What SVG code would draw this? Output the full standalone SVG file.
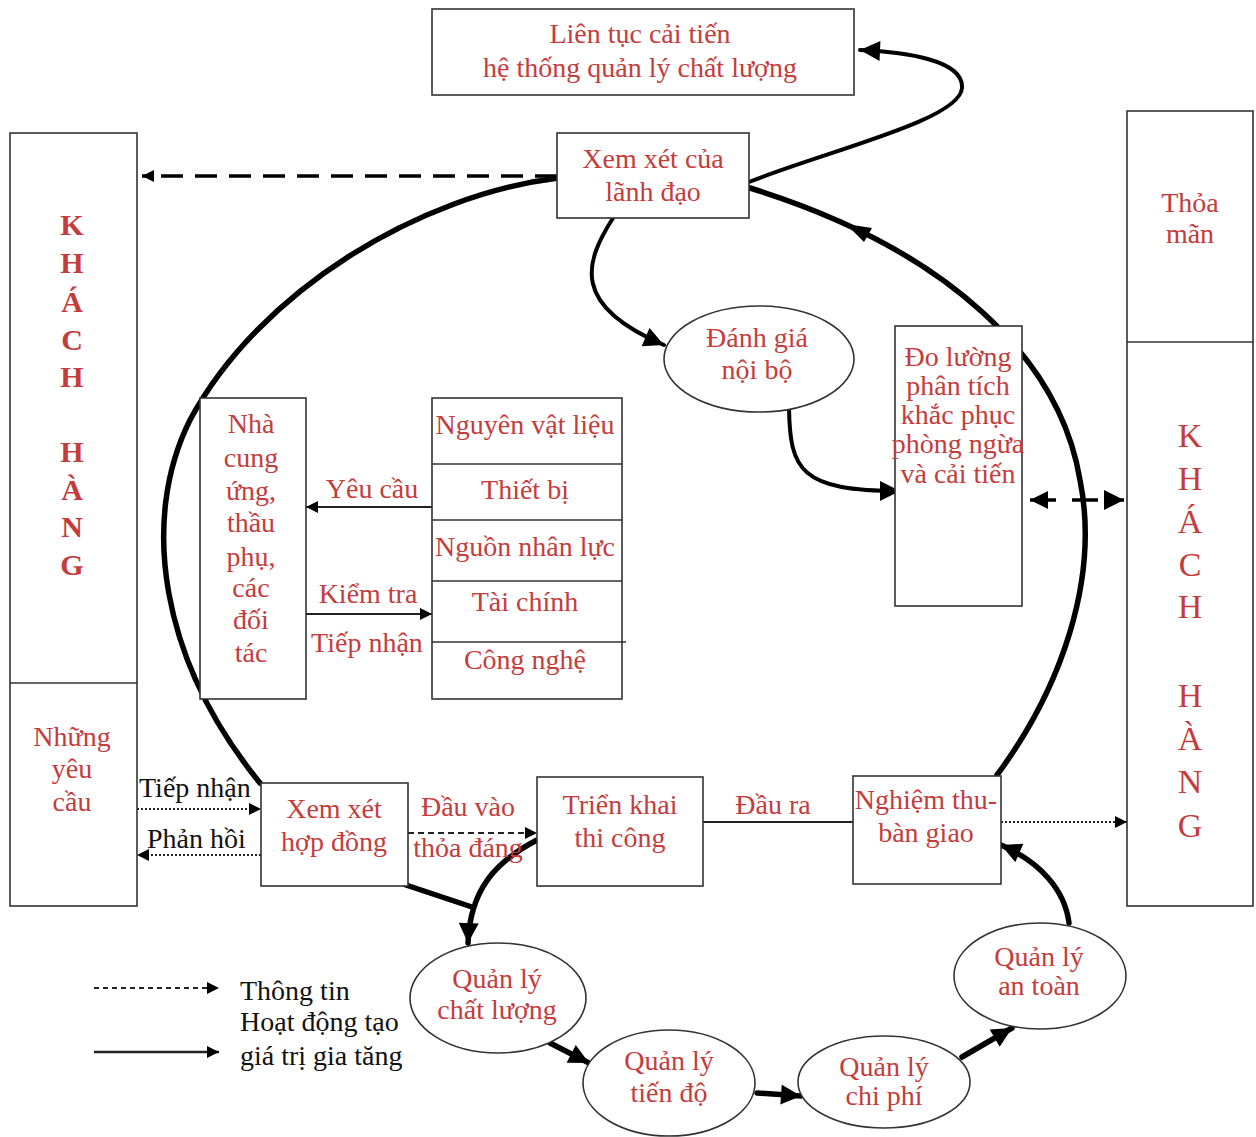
<svg xmlns="http://www.w3.org/2000/svg" width="1256" height="1137" viewBox="0 0 1256 1137">
<defs>
<style>
.box{fill:#fff;stroke:#333;stroke-width:1.6}
.t{font-family:"Liberation Serif","Times New Roman",serif;font-size:28px;fill:#c43c3c;text-anchor:middle}
.k{font-family:"Liberation Serif","Times New Roman",serif;fill:#c43c3c;text-anchor:middle}
.b{font-family:"Liberation Serif","Times New Roman",serif;font-size:28px;fill:#111}
.thick{fill:none;stroke:#000;stroke-width:5.5;stroke-linecap:round}
.mid{fill:none;stroke:#000;stroke-width:4;stroke-linecap:round}
.thin{fill:none;stroke:#222;stroke-width:2}
.dot{fill:none;stroke:#222;stroke-width:2;stroke-dasharray:2 2}
.dash{fill:none;stroke:#222;stroke-width:2;stroke-dasharray:6 4}
.ldash{fill:none;stroke:#000;stroke-width:3.5;stroke-dasharray:22 12}
</style>
<marker id="ah" viewBox="0 0 10 10" refX="10" refY="5" markerWidth="14" markerHeight="12" markerUnits="userSpaceOnUse" orient="auto"><path d="M0,0 L10,5 L0,10 z" fill="#000"/></marker>
<marker id="ahb" viewBox="0 0 10 10" refX="10" refY="5" markerWidth="22" markerHeight="20" markerUnits="userSpaceOnUse" orient="auto"><path d="M0,0 L10,5 L0,10 z" fill="#000"/></marker>
<marker id="ahs" viewBox="0 0 10 10" refX="0" refY="5" markerWidth="22" markerHeight="18" markerUnits="userSpaceOnUse" orient="auto"><path d="M10,0 L0,5 L10,10 z" fill="#000"/></marker>
</defs>

<g id="connectors">
<!-- big loop -->
<path class="thick" d="M558,178 C420,195 260,290 190,420 C140,520 160,660 260,783"/>
<path class="thick" d="M997,775 C1060,690 1100,580 1080,480 C1060,360 950,250 750,188"/>
<polygon points="846,224 872,228 864,242" fill="#000"/>
<path class="mid" d="M749,182 C830,150 960,120 962,88 C964,60 905,52 860,50" marker-end="url(#ahb)"/>
<path class="mid" d="M613,218 C585,262 570,305 664,345" marker-end="url(#ahb)"/>
<path class="mid" d="M789,408 C790,470 800,491 900,491" marker-end="url(#ahb)"/>
<path class="ldash" d="M557,176 L142,176" marker-end="url(#ah)"/>
<path class="ldash" d="M1030,500 L1124,500" style="stroke-dasharray:26 16" marker-end="url(#ahb)" marker-start="url(#ahs)"/>
<!-- supplier arrows -->
<path class="thin" d="M432,507 L306,507" marker-end="url(#ah)"/>
<path class="thin" d="M306,614 L432,614" marker-end="url(#ah)"/>
<!-- process line -->
<path class="dot" d="M137,809 L261,809" marker-end="url(#ah)"/>
<path class="dot" d="M261,855 L137,855" marker-end="url(#ah)"/>
<path class="dash" d="M408,833 L537,833" marker-end="url(#ah)"/>
<path class="thin" d="M703,822 L853,822"/>
<path class="dot" d="M1001,822 L1127,822" marker-end="url(#ah)"/>
<!-- value chain -->
<path class="thick" d="M406,885 L472,907"/>
<path class="thick" d="M537,840 C495,862 470,890 468,943" marker-end="url(#ahb)"/>
<path class="thick" d="M550,1043 L589,1063" marker-end="url(#ahb)"/>
<path class="thick" d="M757,1093 L801,1096" marker-end="url(#ahb)"/>
<path class="thick" d="M962,1057 L1012,1028" marker-end="url(#ahb)"/>
<path class="thick" d="M1069,923 C1065,890 1040,862 1001,845" marker-end="url(#ahb)"/>
<!-- legend -->
<path class="dash" d="M94,988 L219,988" style="stroke-dasharray:5 4" marker-end="url(#ah)"/>
<path class="thin" d="M94,1052 L219,1052" style="stroke-width:2.5" marker-end="url(#ah)"/>
</g>

<g id="lien-tuc">
<rect class="box" x="432" y="9" width="422" height="86"/>
<text class="t" x="640" y="43">Liên tục cải tiến</text>
<text class="t" x="640" y="77">hệ thống quản lý chất lượng</text>
</g>

<g id="xem-xet-lanh-dao">
<rect class="box" x="557" y="133" width="192" height="85"/>
<text class="t" x="653" y="168">Xem xét của</text>
<text class="t" x="653" y="201">lãnh đạo</text>
</g>

<g id="khach-hang-trai">
<rect class="box" x="10" y="133" width="127" height="773"/>
<line class="box" x1="10" y1="683" x2="137" y2="683"/>
<g class="k" font-size="30" font-weight="bold">
<text x="72" y="235">K</text><text x="72" y="273">H</text><text x="72" y="312">Á</text><text x="72" y="350">C</text><text x="72" y="387">H</text>
<text x="72" y="462">H</text><text x="72" y="500">À</text><text x="72" y="537">N</text><text x="72" y="575">G</text>
</g>
<text class="t" x="72" y="746">Những</text>
<text class="t" x="72" y="778">yêu</text>
<text class="t" x="72" y="811">cầu</text>
</g>

<g id="khach-hang-phai">
<rect class="box" x="1127" y="111" width="126" height="795"/>
<line class="box" x1="1127" y1="342" x2="1253" y2="342"/>
<text class="t" x="1190" y="212">Thỏa</text>
<text class="t" x="1190" y="243">mãn</text>
<g class="k" font-size="34">
<text x="1190" y="447">K</text><text x="1190" y="490">H</text><text x="1190" y="533">Á</text><text x="1190" y="576">C</text><text x="1190" y="618">H</text>
<text x="1190" y="707">H</text><text x="1190" y="750">À</text><text x="1190" y="793">N</text><text x="1190" y="837">G</text>
</g>
</g>

<g id="danh-gia">
<ellipse class="box" cx="759" cy="359" rx="95" ry="53"/>
<text class="t" x="757" y="347">Đánh giá</text>
<text class="t" x="757" y="379">nội bộ</text>
</g>

<g id="do-luong">
<rect class="box" x="895" y="326" width="127" height="280"/>
<g class="t" font-size="25">
<text x="958" y="366">Đo lường</text>
<text x="958" y="395">phân tích</text>
<text x="958" y="424">khắc phục</text>
<text x="958" y="453">phòng ngừa</text>
<text x="958" y="483">và cải tiến</text>
</g>
</g>

<g id="nha-cung-ung">
<rect class="box" x="200" y="398" width="106" height="301"/>
<text class="t" x="251" y="433">Nhà</text>
<text class="t" x="251" y="467">cung</text>
<text class="t" x="251" y="500">ứng,</text>
<text class="t" x="251" y="532">thầu</text>
<text class="t" x="251" y="566">phụ,</text>
<text class="t" x="251" y="597">các</text>
<text class="t" x="251" y="629">đối</text>
<text class="t" x="251" y="662">tác</text>
</g>

<g id="labels-supplier">
<text class="t" x="372" y="498">Yêu cầu</text>
<text class="t" x="368" y="603">Kiểm tra</text>
<text class="t" x="367" y="652">Tiếp nhận</text>
</g>

<g id="nguon-luc">
<rect class="box" x="432" y="398" width="190" height="301"/>
<line class="box" x1="432" y1="464" x2="622" y2="464"/>
<line class="box" x1="432" y1="520" x2="622" y2="520"/>
<line class="box" x1="432" y1="581" x2="622" y2="581"/>
<line class="box" x1="432" y1="642" x2="626" y2="642"/>
<text class="t" x="525" y="434">Nguyên vật liệu</text>
<text class="t" x="525" y="499">Thiết bị</text>
<text class="t" x="525" y="556">Nguồn nhân lực</text>
<text class="t" x="525" y="611">Tài chính</text>
<text class="t" x="525" y="669">Công nghệ</text>
</g>

<g id="xem-xet-hop-dong">
<rect class="box" x="261" y="783" width="147" height="103"/>
<text class="t" x="334" y="818">Xem xét</text>
<text class="t" x="334" y="851">hợp đồng</text>
</g>
<g id="labels-process">
<text class="b" x="139" y="797" font-size="27">Tiếp nhận</text>
<text class="b" x="147" y="848" font-size="26">Phản hồi</text>
<text class="t" x="468" y="816">Đầu vào</text>
<text class="t" x="468" y="857">thỏa đáng</text>
<text class="t" x="773" y="814">Đầu ra</text>
</g>

<g id="trien-khai">
<rect class="box" x="537" y="777" width="166" height="109"/>
<text class="t" x="620" y="814">Triển khai</text>
<text class="t" x="620" y="847">thi công</text>
</g>

<g id="nghiem-thu">
<rect class="box" x="853" y="776" width="148" height="108"/>
<text class="t" x="926" y="809">Nghiệm thu-</text>
<text class="t" x="926" y="842">bàn giao</text>
</g>

<g id="ql-chat-luong">
<ellipse class="box" cx="498" cy="998" rx="88" ry="55"/>
<text class="t" x="497" y="988">Quản lý</text>
<text class="t" x="497" y="1019">chất lượng</text>
</g>
<g id="ql-tien-do">
<ellipse class="box" cx="669" cy="1083" rx="86" ry="53"/>
<text class="t" x="669" y="1070">Quản lý</text>
<text class="t" x="669" y="1102">tiến độ</text>
</g>
<g id="ql-chi-phi">
<ellipse class="box" cx="884" cy="1082" rx="86" ry="46"/>
<text class="t" x="884" y="1076">Quản lý</text>
<text class="t" x="884" y="1105">chi phí</text>
</g>
<g id="ql-an-toan">
<ellipse class="box" cx="1040" cy="976" rx="86" ry="53"/>
<text class="t" x="1039" y="966">Quản lý</text>
<text class="t" x="1039" y="995">an toàn</text>
</g>

<g id="legend">
<text class="b" x="240" y="1000">Thông tin</text>
<text class="b" x="240" y="1031">Hoạt động tạo</text>
<text class="b" x="240" y="1065">giá trị gia tăng</text>
</g>
</svg>
